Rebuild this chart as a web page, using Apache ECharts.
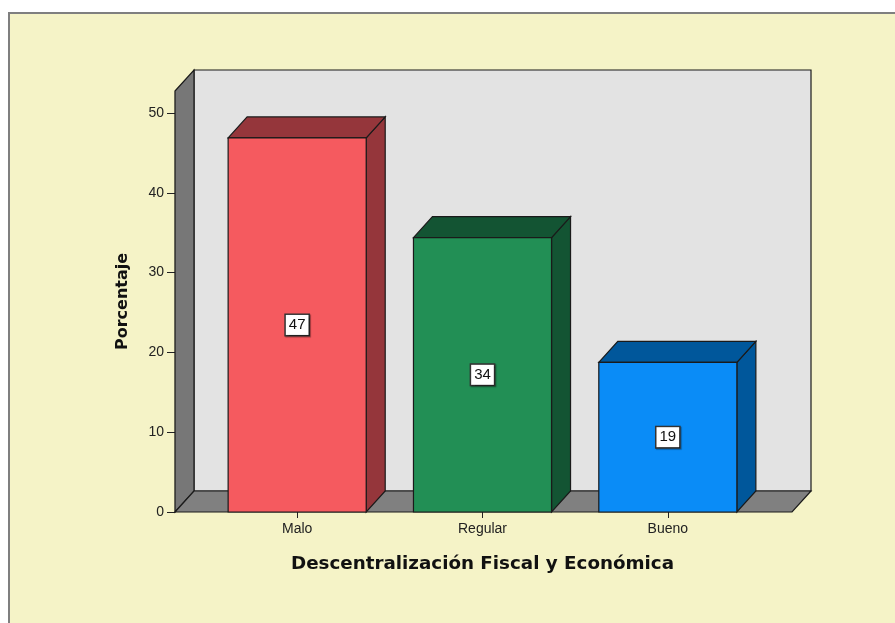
<!DOCTYPE html>
<html>
<head>
<meta charset="utf-8">
<script src="https://cdn.jsdelivr.net/npm/echarts@6/dist/echarts.min.js"></script>
<style>
html,body{margin:0;padding:0;background:#ffffff;}
#chart{width:895px;height:623px;}
</style>
</head>
<body>
<div id="chart"></div>
<script>
var categories = ['Malo', 'Regular', 'Bueno'];
var percentValues = [46.875, 34.375, 18.75];
var yTickValues = [0, 10, 20, 30, 40, 50];
var xAxisTitle = 'Descentralización Fiscal y Económica';
var yAxisTitle = 'Porcentaje';

var frontColors = ['#f55a5f', '#228f55', '#0a8cf7'];
var darkColors = ['#95363b', '#135433', '#00579b'];
var DX = 19, DY = -21;
var FONT = 'Arial, "Liberation Sans", sans-serif';
var TITLE_FONT = '"DejaVu Sans", Arial, sans-serif';

var chart = echarts.init(document.getElementById('chart'));

function renderWalls(params, api) {
  var cs = params.coordSys;
  var L = cs.x - 29.5, R = cs.x + cs.width + 31.5;
  var T = cs.y, B = cs.y + cs.height;
  var st = {stroke: '#1a1a1a', lineWidth: 1.2};
  return {
    type: 'group',
    children: [
      {type: 'rect', shape: {x: L + DX, y: T + DY, width: R - L, height: B - T},
       style: Object.assign({fill: '#e3e3e3'}, st)},
      {type: 'polygon', shape: {points: [[L, T], [L + DX, T + DY], [L + DX, B + DY], [L, B]]},
       style: Object.assign({fill: '#777777'}, st)},
      {type: 'polygon', shape: {points: [[L, B], [L + DX, B + DY], [R + DX, B + DY], [R, B]]},
       style: Object.assign({fill: '#808080'}, st)}
    ]
  };
}

function renderBar(params, api) {
  var idx = params.dataIndex;
  var top = api.coord([api.value(0), api.value(1)]);
  var base = api.coord([api.value(0), 0]);
  var band = api.size([1, 0])[0];
  var w = band * 0.745;
  var x0 = top[0] - w / 2, x1 = top[0] + w / 2;
  var yT = top[1], yB = base[1];
  var st = {stroke: '#1a1a1a', lineWidth: 1.2};
  return {
    type: 'group',
    children: [
      {type: 'polygon', shape: {points: [[x1, yT], [x1 + DX, yT + DY], [x1 + DX, yB + DY], [x1, yB]]},
       style: Object.assign({fill: darkColors[idx]}, st)},
      {type: 'polygon', shape: {points: [[x0, yT], [x0 + DX, yT + DY], [x1 + DX, yT + DY], [x1, yT]]},
       style: Object.assign({fill: darkColors[idx]}, st)},
      {type: 'rect', shape: {x: x0, y: yT, width: w, height: yB - yT},
       style: Object.assign({fill: frontColors[idx]}, st)},
      {type: 'text', x: top[0], y: (yT + yB) / 2,
       style: {text: String(Math.round(api.value(1))), fill: '#111', font: '15px ' + FONT,
               align: 'center', verticalAlign: 'middle',
               backgroundColor: '#ffffff', borderColor: '#333', borderWidth: 1.5,
               padding: [3, 3, 2, 3],
               shadowColor: 'rgba(0,0,0,0.35)', shadowOffsetX: 1, shadowOffsetY: 1, shadowBlur: 1}}
    ]
  };
}

var option = {
  animation: false,
  backgroundColor: '#ffffff',
  graphic: [{
    type: 'rect', z: -10, silent: true,
    shape: {x: 9, y: 13, width: 900, height: 620},
    style: {fill: '#f5f3c7', stroke: '#7f7f7f', lineWidth: 2}
  }],
  grid: {left: 204.5, right: 134.5, top: 91, bottom: 111},
  xAxis: {
    type: 'category',
    data: categories,
    axisLine: {show: false},
    axisTick: {show: true, alignWithLabel: true, length: 6, lineStyle: {color: '#222'}},
    axisLabel: {color: '#222', fontSize: 14, fontFamily: FONT, margin: 10},
    splitLine: {show: false},
    name: xAxisTitle,
    nameLocation: 'middle',
    nameGap: 43,
    nameTextStyle: {color: '#111', fontSize: 18.3, fontWeight: 'bold', fontFamily: TITLE_FONT}
  },
  yAxis: {
    type: 'value',
    min: 0, max: 52.75, interval: 10,
    offset: 29.5,
    axisLine: {show: true, lineStyle: {color: '#1a1a1a', width: 1.2}},
    axisTick: {show: true, length: 8, customValues: yTickValues, lineStyle: {color: '#222'}},
    axisLabel: {color: '#222', fontSize: 14, fontFamily: FONT, margin: 11, customValues: yTickValues},
    splitLine: {show: false},
    name: yAxisTitle,
    nameLocation: 'middle',
    nameGap: 44,
    nameTextStyle: {color: '#111', fontSize: 16, fontWeight: 'bold', fontFamily: TITLE_FONT}
  },
  series: [
    {type: 'custom', z: 1, silent: true, renderItem: renderWalls, data: [[0, 0]], clip: false},
    {type: 'custom', z: 2, silent: true, renderItem: renderBar, clip: false,
     data: percentValues.map(function (v, i) { return [i, v]; })}
  ]
};
chart.setOption(option);
</script>
</body>
</html>
